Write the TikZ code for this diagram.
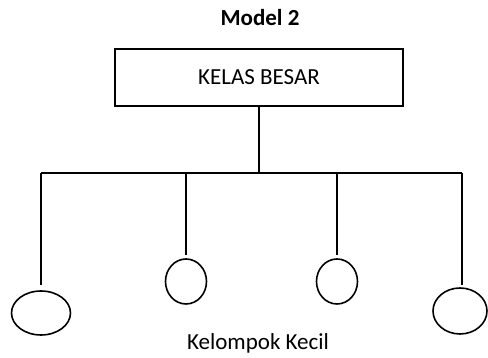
\documentclass[tikz,border=0pt]{standalone}
\usepackage{fontspec}
\setmainfont{Carlito}
\usetikzlibrary{shapes.geometric}

\begin{document}
\begin{tikzpicture}[x=1pt,y=1pt,line width=1.6pt,
    font=\fontsize{23}{27}\selectfont,
    kelas/.style={draw,rectangle,minimum width=288pt,minimum height=57pt,inner sep=0pt},
    grup/.style={draw,ellipse,inner sep=0pt}]
  \useasboundingbox (0,0) rectangle (488,358);

  \node[font=\fontsize{23}{27}\selectfont\bfseries] (judul) at (260,340) {Model 2};
  \node[kelas] (besar) at (259,280.5) {KELAS BESAR};

  \node[grup,minimum width=59pt,minimum height=44pt] (kecil1) at (41,45) {};
  \node[grup,minimum width=41pt,minimum height=45pt] (kecil2) at (186,76.5) {};
  \node[grup,minimum width=41pt,minimum height=45pt] (kecil3) at (337,76.5) {};
  \node[grup,minimum width=54pt,minimum height=46pt] (kecil4) at (460,47) {};

  \node (label) at (258,15) {Kelompok Kecil};

  \coordinate (cabang) at (259,185);
  \coordinate (kiri) at (41,185);
  \coordinate (kanan) at (462,185);

  \draw (besar.south) -- (cabang);
  \draw (kiri) -- (kanan);
  \draw (kiri) -- (41,73);
  \draw (kecil2.north |- cabang) -- ([yshift=3pt]kecil2.north);
  \draw (kecil3.north |- cabang) -- ([yshift=3pt]kecil3.north);
  \draw (kanan) -- (462,73);
\end{tikzpicture}
\end{document}
